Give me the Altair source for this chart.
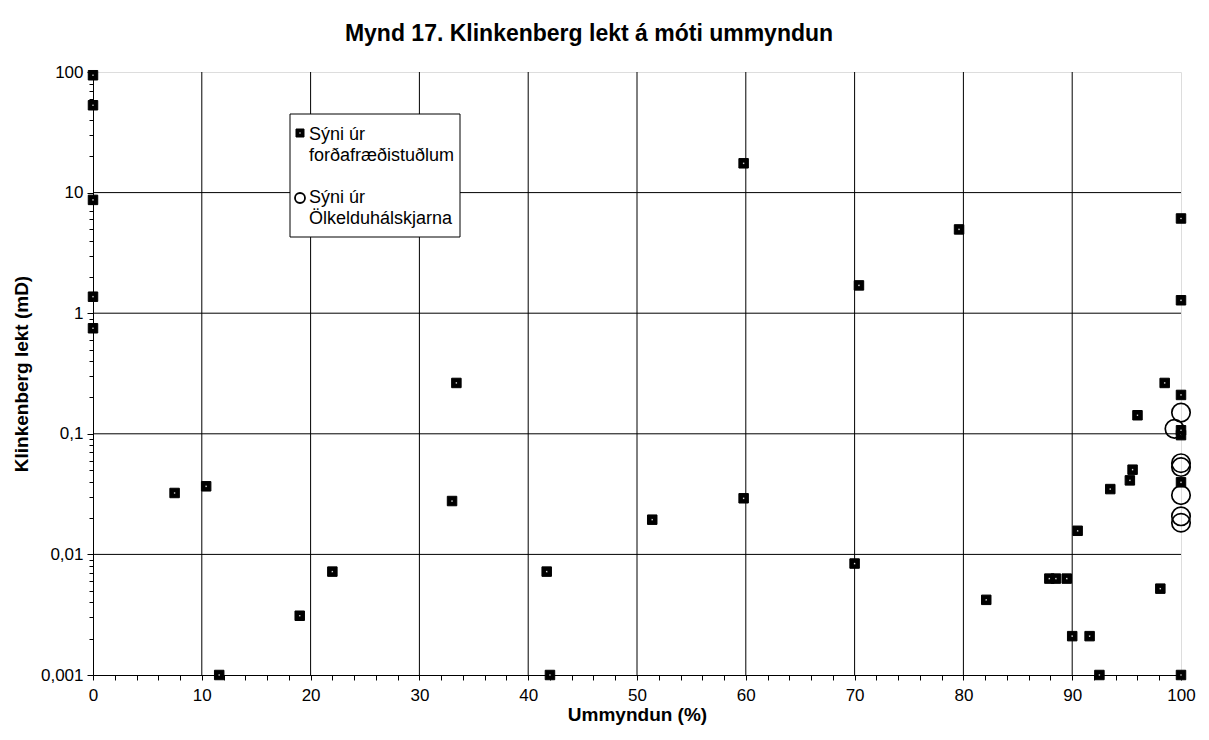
import altair as alt
import pandas as pd

# ---- data ----
sq_x = [0, 0, 0, 0, 0, 7.5, 10.4, 11.6, 19.0, 22.0, 33.0, 33.4, 41.7, 42.0, 51.4,
        59.8, 59.8, 70.0, 70.4, 79.6, 82.1, 87.9, 88.5, 89.5, 90.0, 90.5, 91.6,
        92.5, 93.5, 95.3, 95.55, 96.0, 98.1, 98.5, 100, 100, 100, 100, 100, 100, 100]
sq_y = [94, 53, 8.7, 1.37, 0.75, 0.0323, 0.0367, 0.001, 0.0031, 0.0072, 0.0277, 0.264,
        0.0072, 0.001, 0.0194, 17.5, 0.0292, 0.0084, 1.7, 4.95, 0.0042, 0.0063, 0.0063,
        0.0063, 0.0021, 0.0157, 0.0021, 0.001, 0.0348, 0.0411, 0.0504, 0.1425, 0.0052,
        0.264, 6.1, 1.28, 0.21, 0.107, 0.0975, 0.0396, 0.001]
ci_x = [100, 99.4, 100, 100, 100, 100, 100]
ci_y = [0.15, 0.11, 0.057, 0.053, 0.031, 0.0207, 0.0183]

title_text = "Mynd 17. Klinkenberg lekt á móti ummyndun"
x_title = "Ummyndun (%)"
y_title = "Klinkenberg lekt (mD)"
legend_1 = ["Sýni úr", "forðafræðistuðlum"]
legend_2 = ["Sýni úr", "Ölkelduhálskjarna"]

x_ticks = list(range(0, 101, 2))
x_grid = list(range(10, 100, 10))
y_decades = [0.001, 0.01, 0.1, 1, 10, 100]
y_grid = [0.01, 0.1, 1, 10]
y_ticks = [round(m * d, 6) for d in y_decades[:-1] for m in range(1, 10)] + [100]

FONT = "Liberation Sans"

squares = pd.DataFrame({"x": sq_x, "y": sq_y})
circles = pd.DataFrame({"x": ci_x, "y": ci_y})

dec_test = "indexof([0.001,0.01,0.1,1,10,100], datum.value) >= 0"

x_enc = alt.X(
    "x:Q",
    scale=alt.Scale(domain=[0, 100], nice=False, zero=False),
    axis=alt.Axis(
        values=x_ticks,
        tickCount=200,
        format="d",
        labelExpr="datum.value % 10 === 0 ? format(datum.value, 'd') : ''",
        labelOverlap=False,
        title=x_title,
        grid=False,
        tickSize=5,
        tickColor="black",
        domainColor="black",
        labelColor="black",
        labelFont=FONT,
        labelFontSize=17,
        labelPadding=7,
        labelFlush=False,
        titleFont=FONT,
        titleFontSize=19,
        titleFontWeight="bold",
        titleColor="black",
        titlePadding=2,
    ),
)
y_enc = alt.Y(
    "y:Q",
    scale=alt.Scale(type="log", domain=[0.001, 100], nice=False),
    axis=alt.Axis(
        values=y_ticks,
        tickCount=200,
        labelExpr=f"{dec_test} ? replace(toString(datum.value), '.', ',') : ''",
        labelOverlap=False,
        title=y_title,
        grid=False,
        tickSize={"condition": {"test": dec_test, "value": 6}, "value": 4},
        tickColor="black",
        domainColor="black",
        labelColor="black",
        labelFont=FONT,
        labelFontSize=17,
        labelPadding=4,
        labelFlush=False,
        titleFont=FONT,
        titleFontSize=19,
        titleFontWeight="bold",
        titleColor="black",
        titlePadding=9,
    ),
)

xg = alt.Chart(pd.DataFrame({"x": x_grid})).mark_rule(color="black", strokeWidth=1).encode(
    x="x:Q"
)
yg = alt.Chart(pd.DataFrame({"y": y_grid})).mark_rule(color="black", strokeWidth=1).encode(
    y="y:Q"
)

sq_layer = alt.Chart(squares).mark_point(
    shape="square", size=90, fill="black", filled=True, stroke="black", strokeWidth=1,
    opacity=1, clip=False
).encode(x=x_enc, y=y_enc)
sq_inner = alt.Chart(squares).mark_point(
    shape="cross", size=3, fill="#dddddd", filled=True, opacity=1, angle=45, clip=False
).encode(x="x:Q", y="y:Q")
ci_layer = alt.Chart(circles).mark_point(
    shape="circle", size=340, filled=False, color="black", strokeWidth=1.7, opacity=1, clip=False
).encode(x="x:Q", y="y:Q")

# ---- manual legend (positions in plot pixels) ----
one = pd.DataFrame({"k": [0]})
leg_box = alt.Chart(one).mark_rect(fill="white", stroke="black", strokeWidth=1).encode(
    x=alt.value(197), x2=alt.value(367), y=alt.value(42), y2=alt.value(165)
)
leg_sq = alt.Chart(one).mark_point(
    shape="square", size=64, fill="black", filled=True, stroke="black", strokeWidth=1, opacity=1
).encode(x=alt.value(207), y=alt.value(61))
leg_sq_in = alt.Chart(one).mark_point(
    shape="cross", size=3, fill="#dddddd", filled=True, opacity=1, angle=45
).encode(x=alt.value(207), y=alt.value(61))
leg_ci = alt.Chart(one).mark_point(
    shape="circle", size=100, filled=False, color="black", strokeWidth=1.8, opacity=1
).encode(x=alt.value(207), y=alt.value(126))

def leg_text(lines, y0):
    df = pd.DataFrame({"t": ["\n".join(lines)]})
    return alt.Chart(df).mark_text(
        align="left", baseline="middle", font=FONT, fontSize=18, color="black",
        lineBreak="\n", lineHeight=21
    ).encode(x=alt.value(216), y=alt.value(y0), text="t:N")

leg_t1 = leg_text(legend_1, 63)
leg_t2 = leg_text(legend_2, 126)

chart = alt.layer(
    xg, yg, sq_layer, sq_inner, ci_layer, leg_box, leg_sq, leg_sq_in, leg_ci, leg_t1, leg_t2
).properties(
    width=1088,
    height=603,
    title=alt.TitleParams(
        title_text, font=FONT, fontSize=23, fontWeight="bold", color="black",
        anchor="middle", dx=-48, offset=17
    ),
    autosize=alt.AutoSizeParams(type="none"),
    padding={"left": 85, "top": 64, "right": 15, "bottom": 58},
).configure_view(stroke="black", strokeWidth=1.2).configure(background="white")

chart.save("out.html", embed_options={"renderer": "svg", "actions": False})
